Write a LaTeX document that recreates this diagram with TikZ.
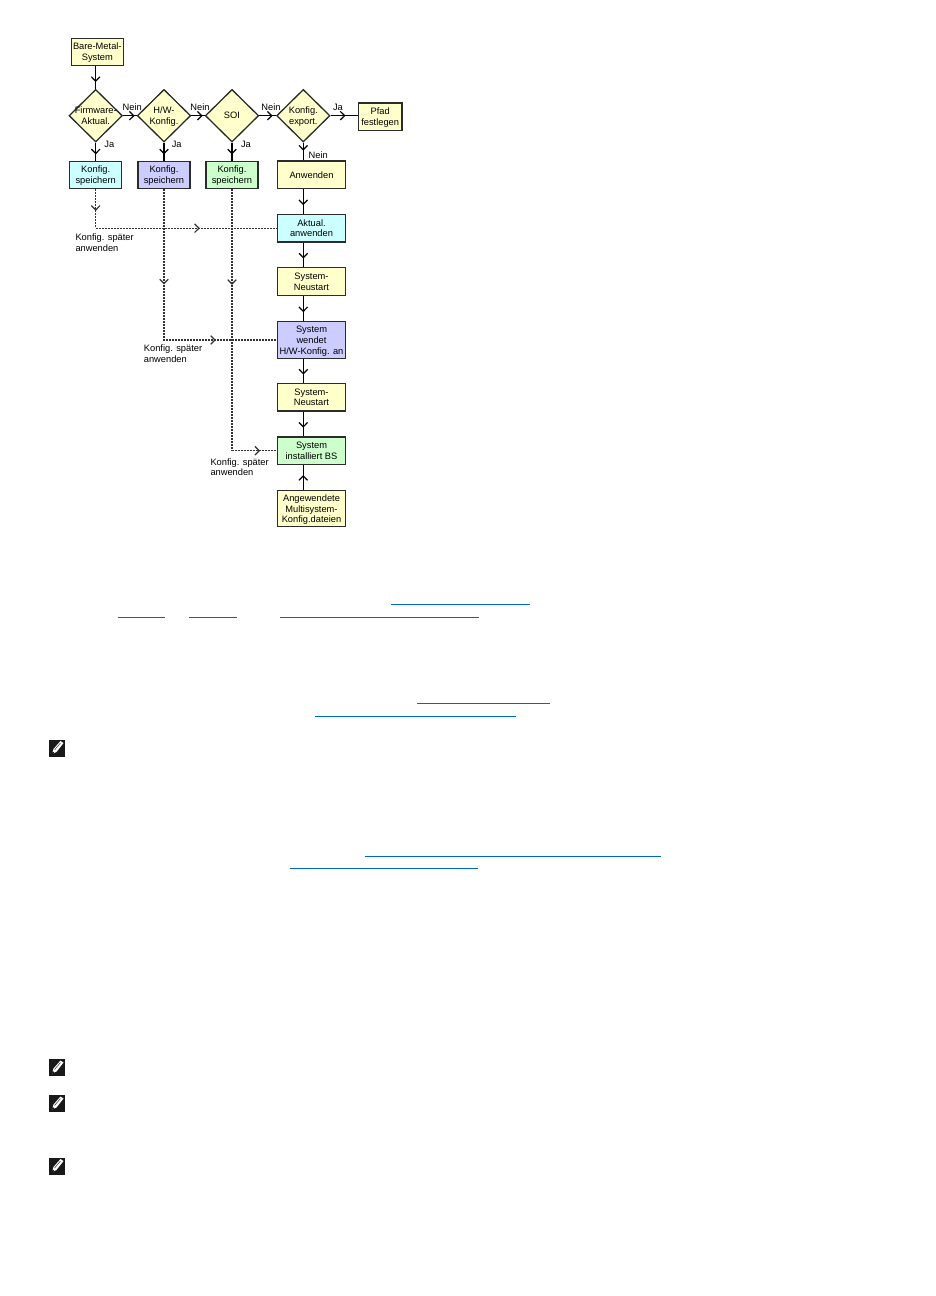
\documentclass[tikz,border=0pt]{standalone}
\usepackage{fontspec}
\setmainfont{Liberation Sans}
\usetikzlibrary{arrows.meta,shapes.geometric,decorations.markings}

\definecolor{boxyellow}{HTML}{FFFFCC}
\definecolor{boxcyan}{HTML}{CCFFFF}
\definecolor{boxblue}{HTML}{CCCCFF}
\definecolor{boxgreen}{HTML}{CCFFCC}
\definecolor{linkblue}{HTML}{0066CC}
\definecolor{edgegray}{HTML}{2B2B2B}

\tikzset{
  box/.style={draw=edgegray, line width=1.3pt, rectangle, inner sep=0pt, align=center,
              minimum width=52pt, minimum height=27.4pt, text depth=-1pt,
              font=\fontsize{9.3}{10.8}\selectfont},
  widebox/.style={box, minimum width=67.6pt},
  choice/.style={draw=edgegray, line width=1.3pt, diamond, fill=boxyellow, inner sep=-14pt,
                 align=center, minimum width=53.4pt, minimum height=52.6pt, text depth=-1pt,
                 font=\fontsize{9.3}{10.8}\selectfont},
  lbl/.style={inner sep=0pt, align=left, font=\fontsize{9.3}{10.8}\selectfont},
  flowat/.style={postaction={decorate, decoration={markings,
                 mark=at position #1 with {\arrow{Straight Barb[length=4.4pt,width=8.6pt,line width=1.2pt]}}}}},
  flow/.style={line width=1.2pt, draw=black, flowat=#1},
  flow/.default=0.62,
  later/.style={line width=1.2pt, dash pattern=on 2pt off 1pt, draw=black!80},
  underline/.style={line width=1pt, draw=linkblue},
  noteicon/.pic={
    \fill[black!90] (0,0) rectangle (16,17);
    \fill[white] (3,14.5) -- (4.5,9.5) -- (11.5,1.5) -- (14.5,3.5) -- (7.5,12.5) -- cycle;
    \draw[black!70, line width=.6pt] (5.5,10.5) -- (11.5,3.5);
    \fill[black] (3,14.5) -- (3.7,12) -- (5.4,13.4) -- cycle;
  }
}

\begin{document}
\begin{tikzpicture}[x=1pt, y=-1pt]
  \useasboundingbox (0,0) rectangle (936,1296);

  \node (bare) [box, fill=boxyellow] at (97.3,52) {Bare-Metal-\\System};

  \node (firm) [choice, node distance=63.7pt, below of=bare, xshift=-1.6pt] {Firmware-\\Aktual.};
  \node (hw)   [choice, node distance=68.3pt, right of=firm] {H/W-\\Konfig.};
  \node (soi)  [choice, node distance=68pt, right of=hw] {SOI};
  \node (exp)  [choice, node distance=71.3pt, right of=soi] {Konfig.\\export.};
  \node (path) [box, fill=boxyellow, minimum width=43.7pt, node distance=76.9pt,
                right of=exp, yshift=-1pt] {Pfad\\festlegen};

  \node (save1) [box, fill=boxcyan, node distance=59.3pt, below of=firm] {Konfig.\\speichern};
  \node (save2) [box, fill=boxblue, node distance=59.3pt, below of=hw] {Konfig.\\speichern};
  \node (save3) [box, fill=boxgreen, node distance=59.3pt, below of=soi] {Konfig.\\speichern};

  \node (apply)  [widebox, fill=boxyellow, node distance=59pt, below of=exp, xshift=8.2pt] {Anwenden};
  \node (update) [widebox, fill=boxcyan, node distance=53.5pt, below of=apply] {Aktual.\\anwenden};
  \node (boot1)  [widebox, fill=boxyellow, node distance=53.3pt, below of=update] {System-\\Neustart};
  \node (hwsys)  [widebox, fill=boxblue, minimum height=36.6pt, node distance=58.5pt, below of=boot1]
                 {System\\wendet\\H/W-Konfig. an};
  \node (boot2)  [widebox, fill=boxyellow, node distance=57.3pt, below of=hwsys] {System-\\Neustart};
  \node (os)     [widebox, fill=boxgreen, node distance=53.4pt, below of=boot2] {System\\installiert BS};
  \node (multi)  [widebox, fill=boxyellow, minimum height=36pt, node distance=58pt, below of=os]
                 {Angewendete\\Multisystem-\\Konfig.dateien};

  \node (no1) [lbl, node distance=36.6pt, right of=firm, yshift=8.7pt] {Nein};
  \node (no2) [lbl, node distance=36pt, right of=hw, yshift=8.7pt] {Nein};
  \node (no3) [lbl, node distance=39pt, right of=soi, yshift=8.7pt] {Nein};
  \node (yes4) [lbl, node distance=34.7pt, right of=exp, yshift=8.7pt] {Ja};
  \node (yes1) [lbl, node distance=13.6pt, right of=firm, yshift=-28.6pt] {Ja};
  \node (yes2) [lbl, node distance=12.7pt, right of=hw, yshift=-28.6pt] {Ja};
  \node (yes3) [lbl, node distance=14pt, right of=soi, yshift=-28.6pt] {Ja};
  \node (no4)  [lbl, node distance=15pt, right of=exp, yshift=-39.3pt] {Nein};

  \node (late1) [lbl, anchor=west] at (75.3,242.4) {Konfig. später\\anwenden};
  \node (late2) [lbl, anchor=west] at (143.7,353.6) {Konfig. später\\anwenden};
  \node (late3) [lbl, anchor=west] at (210.3,467.2) {Konfig. später\\anwenden};

  \draw[flow=0.7] (bare.south -| firm) -- (firm.north);
  \draw[flow=0.85] (firm) -- (hw);
  \draw[flow=0.85] (hw) -- (soi);
  \draw[flow=0.8] (soi) -- (exp);
  \draw[flow=0.55] (exp.east) -- (exp.east -| path.west);
  \draw[flow=0.65] (firm) -- (save1);
  \draw[flow=0.65] (hw) -- (save2);
  \draw[flow=0.65] (soi) -- (save3);
  \draw[flow=0.45] (exp.south) -- (exp.south |- apply.north);

  \draw[flow=0.65] (exp.south |- apply.south) -- (exp.south |- update.north);
  \draw[flow=0.65] (exp.south |- update.south) -- (exp.south |- boot1.north);
  \draw[flow=0.65] (exp.south |- boot1.south) -- (exp.south |- hwsys.north);
  \draw[flow=0.65] (exp.south |- hwsys.south) -- (exp.south |- boot2.north);
  \draw[flow=0.65] (exp.south |- boot2.south) -- (exp.south |- os.north);
  \draw[flow=0.6] (exp.south |- multi.north) -- (exp.south |- os.south);

  \draw[later, flowat=21.5pt, flowat=143pt] (save1.south) |- (update.west);
  \draw[later, flowat=95pt, flowat=202.6pt] (save2.south) |- (hwsys.west);
  \draw[later, flowat=95.5pt, flowat=289.5pt] (save3.south) |- (os.west);

  \draw[underline] (391,604.3) -- (529.5,604.3);
  \draw[underline] (117.8,617.3) -- (164.9,617.3);
  \draw[underline] (188.8,617.3) -- (236.7,617.3);
  \draw[underline] (279.6,617.3) -- (479.2,617.3);
  \draw[underline] (417.4,703.3) -- (549.5,703.3);
  \draw[underline] (315.3,716.3) -- (516.1,716.3);
  \draw[underline] (364.5,856.3) -- (661,856.3);
  \draw[underline] (289.7,868) -- (477.5,868);

  \pic at (49,739.5) {noteicon};
  \pic at (49,1059) {noteicon};
  \pic at (49,1095) {noteicon};
  \pic at (49,1157.5) {noteicon};
\end{tikzpicture}
\end{document}
